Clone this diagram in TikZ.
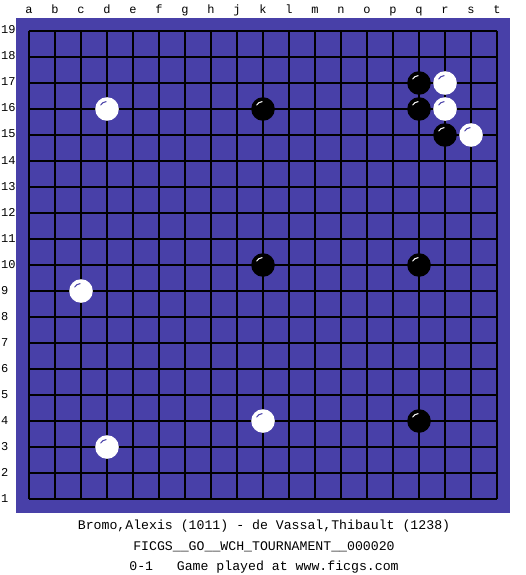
\documentclass[tikz,border=0pt]{standalone}
\usepackage{fontspec}
\setmonofont{Liberation Mono}
\definecolor{board}{RGB}{72,64,168}
\begin{document}
\begin{tikzpicture}[x=1pt,y=-1pt,
  lbl/.style={font=\ttfamily\fontsize{12}{12}\selectfont,inner sep=0pt},
  info/.style={font=\ttfamily\fontsize{13.2}{13.2}\selectfont,inner sep=0pt,anchor=base},
  gridline/.style={line width=1.3pt,black},
  wstone/.style={fill=white,draw=none},
  bstone/.style={fill=black,draw=none}]
\useasboundingbox[fill=white] (0,0) rectangle (525,575);
\fill[board] (16,18) rectangle (510,513);
% grid
\foreach \i in {0,...,18}{
  \draw[gridline] (29+26*\i,31) -- (29+26*\i,499);
  \draw[gridline] (29,31+26*\i) -- (497,31+26*\i);
}
% column labels
\foreach \c [count=\i from 0] in {a,b,c,d,e,f,g,h,j,k,l,m,n,o,p,q,r,s,t}{
  \node[lbl,anchor=base] (col\c) at (29+26*\i,14) {\c};
}
% row labels
\foreach \r in {1,...,19}{
  \node[lbl,anchor=base west] (row\r) at (1,499-26*\r+26+3) {\r};
}
% stones
\newcommand{\wst}[2]{%
  \fill[wstone] (29+26*#1,499-26*#2+26) circle (11.8);
  \draw[board,line width=1pt] (29+26*#1,499-26*#2+26) ++(210:7.5) arc (210:265:7.5);}
\newcommand{\bst}[2]{%
  \fill[bstone] (29+26*#1,499-26*#2+26) circle (11.8);
  \draw[white,line width=1pt] (29+26*#1,499-26*#2+26) ++(210:7.5) arc (210:265:7.5);}
% white: d16 r17 r16 s15 c9 k4 d3
\wst{3}{16}\wst{16}{17}\wst{16}{16}\wst{17}{15}\wst{2}{9}\wst{9}{4}\wst{3}{3}
% black: q17 q16 r15 k16 k10 q10 q4
\bst{15}{17}\bst{15}{16}\bst{16}{15}\bst{9}{16}\bst{9}{10}\bst{15}{10}\bst{15}{4}
% info text
\node[info] (players) at (264,529) {Bromo,Alexis (1011) - de Vassal,Thibault (1238)};
\node[info] (event) at (264,550) {FICGS\_\_GO\_\_WCH\_TOURNAMENT\_\_000020};
\node[info] (result) at (264,570) {0-1\ \ \ Game played at www.ficgs.com};
\end{tikzpicture}
\end{document}
